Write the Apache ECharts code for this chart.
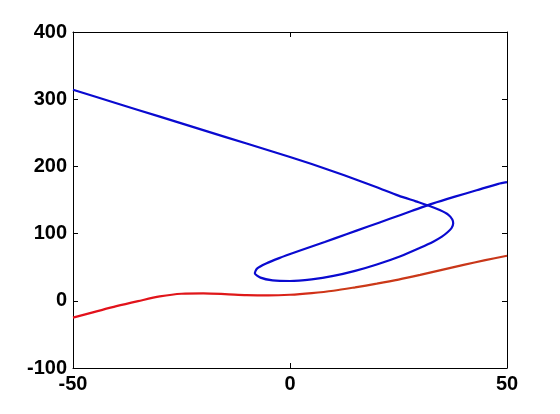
<!DOCTYPE html>
<html>
<head>
<meta charset="utf-8">
<script src="https://cdn.jsdelivr.net/npm/echarts@6/dist/echarts.min.js"></script>
<style>
  html, body { margin: 0; padding: 0; background: #fff; }
  #chart { width: 560px; height: 414px; }
</style>
</head>
<body>
<div id="chart"></div>
<script>
// x ticks / y ticks
var xTicks = [-50, 0, 50];
var yTicks = [-100, 0, 100, 200, 300, 400];

// red curve
var redX = [-50, -45, -40, -35, -30, -25, -20, -15, -10, -5, 0, 5, 10, 15, 20, 25, 30, 35, 40, 45, 50];
var redY = [-25, -16.5, -8, -0.5, 6.5, 10.5, 11, 10, 8.5, 8, 9, 11.5, 15, 20, 25.5, 31.5, 38.5, 46, 53.5, 60.5, 67];

// blue curve, in drawing order (it loops back on itself)
var blueX = [-50, -40, -30, -20, -10, 0, 5, 10, 15, 20, 25, 29, 32, 34.5, 36.5, 37.4, 37.6, 37.2, 36.3, 35, 33, 30, 25.3, 20, 15, 10, 5, 0, -4, -6.8, -8.1, -7.6, -5.5, -2.5, 2, 8, 13, 18, 23, 28, 33, 38, 43, 48, 50];
var blueY = [314, 294, 274, 254, 234, 214, 203.5, 192.5, 181, 169, 156.5, 148, 141.5, 135, 128, 121, 115, 108, 102, 95.5, 88, 79, 66, 54, 44.5, 37, 32, 29.5, 30.5, 34.5, 41, 48, 55.5, 63.5, 74, 87.5, 99, 110.5, 122, 133.5, 145, 155, 164.5, 174, 176.5];

function pairs(xs, ys) {
  var out = [];
  for (var i = 0; i < xs.length; i++) out.push([xs[i], ys[i]]);
  return out;
}

var chart = echarts.init(document.getElementById('chart'));

var labelFont = {
  color: '#000',
  fontFamily: 'Liberation Sans, Arial, sans-serif',
  fontWeight: 'bold',
  fontSize: 20
};

var axisLine = { show: true, onZero: false, lineStyle: { color: '#000', width: 1 } };
var tick = { show: true, inside: true, length: 5, lineStyle: { color: '#000' } };

chart.setOption({
  animation: false,
  backgroundColor: '#fff',
  grid: { left: 73, right: 53, top: 32, bottom: 46 },
  xAxis: [
    {
      type: 'value', min: xTicks[0], max: xTicks[xTicks.length - 1], interval: 50,
      axisLine: axisLine, axisTick: tick, splitLine: { show: false },
      axisLabel: Object.assign({ margin: 6 }, labelFont)
    },
    {
      type: 'value', position: 'top', min: -50, max: 50, interval: 50,
      axisLine: axisLine, axisTick: tick, splitLine: { show: false },
      axisLabel: { show: false }
    }
  ],
  yAxis: [
    {
      type: 'value', min: yTicks[0], max: yTicks[yTicks.length - 1], interval: 100,
      axisLine: axisLine, axisTick: tick, splitLine: { show: false },
      axisLabel: Object.assign({ margin: 6 }, labelFont)
    },
    {
      type: 'value', position: 'right', min: -100, max: 400, interval: 100,
      axisLine: axisLine, axisTick: tick, splitLine: { show: false },
      axisLabel: { show: false }
    }
  ],
  series: [
    {
      type: 'line',
      data: pairs(redX, redY),
      showSymbol: false,
      smooth: 0.3,
      lineStyle: {
        width: 2.2,
        color: new echarts.graphic.LinearGradient(0, 0, 1, 0, [
          { offset: 0, color: '#e3101c' },
          { offset: 0.45, color: '#de1a18' },
          { offset: 0.6, color: '#cc3a18' },
          { offset: 1, color: '#c8361a' }
        ])
      }
    },
    {
      type: 'line',
      data: pairs(blueX, blueY),
      showSymbol: false,
      smooth: 0.25,
      lineStyle: { width: 2.2, color: '#0a0ad0' }
    }
  ]
});
</script>
</body>
</html>
